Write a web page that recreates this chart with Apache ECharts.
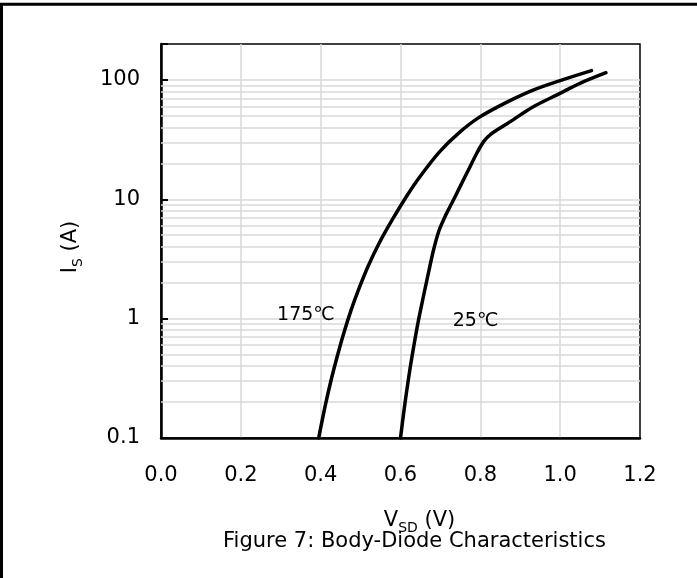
<!DOCTYPE html>
<html>
<head>
<meta charset="utf-8">
<script src="https://cdn.jsdelivr.net/npm/echarts@6/dist/echarts.min.js"></script>
<style>
html,body{margin:0;padding:0;background:#fff;}
#chart{width:697px;height:578px;}
</style>
</head>
<body>
<div id="chart"></div>
<script>
// Data (V_SD in volts, I_S in amperes)
const vsd175 = [0.395, 0.4116, 0.4259, 0.4421, 0.4584, 0.476, 0.4942, 0.518, 0.5461, 0.5787, 0.6137, 0.6476, 0.6977, 0.7478, 0.7979, 0.8655, 0.9306, 0.9982, 1.0784];
const is175  = [0.1,   0.1874, 0.303,  0.491,  0.767,  1.174, 1.727,  2.71,  4.26,   6.68,   10.4,   15.3,   25.0,   36.4,   48.8,   64.9,   81.8,   98.3,   119.7];
const vsd25  = [0.600, 0.6077, 0.6157, 0.6245, 0.6343, 0.645, 0.6571, 0.6696, 0.6826, 0.6959, 0.7114, 0.7282, 0.749, 0.7698, 0.7908, 0.8091, 0.8267, 0.866, 0.9326, 0.9995, 1.0496, 1.1147];
const is25   = [0.1,   0.1596, 0.2503, 0.3926, 0.617,  0.968, 1.518,  2.385,  3.74,   5.40,   7.15,   9.22,   12.7,  17.5,   24.2,   30.7,   35.2,   42.7,  59.6,   77.2,   93.7,   115];
const yTickLabels = [0.1, 1, 10, 100];
const minorGridValues = [0.2,0.3,0.4,0.5,0.6,0.7,0.8,0.9, 2,3,4,5,6,7,8,9, 20,30,40,50,60,70,80,90];
const curveLabels = [
  {text: '175℃', v: 0.363, i: 1.08},
  {text: '25℃',  v: 0.788, i: 0.96}
];
const xAxisTitle = ['V', 'SD', ' (V)'];
const yAxisTitle = ['I', 'S', ' (A)'];
const caption = 'Figure 7: Body-Diode Characteristics';

const FONT = 'DejaVu Sans';
const pair = (xs, ys) => xs.map((x, k) => [x, ys[k]]);

const chart = echarts.init(document.getElementById('chart'), null, {renderer: 'canvas'});
const richName = {
  m: {fontFamily: FONT, fontSize: 21, color: '#000', lineHeight: 28},
  s: {fontFamily: FONT, fontSize: 14, color: '#000', lineHeight: 14, verticalAlign: 'bottom'}
};

chart.setOption({
  animation: false,
  backgroundColor: '#fff',
  graphic: [
    {type: 'rect', shape: {x: 1.5, y: 4.2, width: 900, height: 900},
     style: {fill: 'none', stroke: '#000', lineWidth: 3}, z: 100},
    {type: 'text', left: 223, top: 531,
     style: {text: caption, fontFamily: FONT, fontSize: 21, fill: '#000'}}
  ],
  grid: {left: 161, right: 57, top: 44, bottom: 140, show: true, borderColor: '#000', borderWidth: 1.5, backgroundColor: 'transparent'},
  xAxis: {
    type: 'value', min: 0, max: 1.2, interval: 0.2,
    name: '{m|' + xAxisTitle[0] + '}{s|' + xAxisTitle[1] + '}{m|' + xAxisTitle[2] + '}',
    nameLocation: 'middle', nameGap: 69,
    nameTextStyle: {rich: richName, padding: [0, 0, 0, 38]},
    axisLine: {show: true, lineStyle: {color: '#000', width: 2.5}},
    axisTick: {show: false},
    axisLabel: {fontFamily: FONT, fontSize: 21, color: '#000', margin: 27,
      formatter: v => v.toFixed(1)},
    splitLine: {show: true, showMinLine: false, showMaxLine: false, lineStyle: {color: '#d9d9d9', width: 1.5}}
  },
  yAxis: {
    type: 'log', logBase: 10, min: 0.1, max: 200,
    name: '{m|' + yAxisTitle[0] + '}{s|' + yAxisTitle[1] + '}{m|' + yAxisTitle[2] + '}',
    nameLocation: 'middle', nameGap: 76, nameRotate: 90,
    nameTextStyle: {rich: richName, padding: [0, 12, 0, 0]},
    axisLine: {show: true, lineStyle: {color: '#000', width: 2.5}},
    axisTick: {show: true, inside: true, length: 7, lineStyle: {color: '#000', width: 2}},
    axisLabel: {fontFamily: FONT, fontSize: 21, color: '#000', margin: 21,
      formatter: v => {
        const hit = yTickLabels.find(t => Math.abs(t - v) / t < 1e-6);
        return hit === undefined ? '' : String(hit);
      }},
    splitLine: {show: true, showMinLine: false, showMaxLine: false, lineStyle: {color: '#d9d9d9', width: 1.5}}
  },
  series: [
    {
      name: 'grid', type: 'line', data: [], silent: true,
      markLine: {
        silent: true, symbol: 'none', animation: false,
        label: {show: false},
        lineStyle: {color: '#d9d9d9', width: 1.5, type: 'solid'},
        emphasis: {disabled: true},
        data: minorGridValues.map(v => ({yAxis: v}))
      },
      z: 1
    },
    {
      name: '175℃', type: 'line', data: pair(vsd175, is175), smooth: 0.3,
      showSymbol: false, symbol: 'none',
      lineStyle: {color: '#000', width: 3.5, cap: 'round', join: 'round'}, z: 5,
      markPoint: {
        symbol: 'circle', symbolSize: 0, silent: true,
        label: {show: true, position: 'inside', fontFamily: FONT, fontSize: 19, color: '#000',
          formatter: p => p.name},
        data: [{name: curveLabels[0].text, coord: [curveLabels[0].v, curveLabels[0].i]}]
      }
    },
    {
      name: '25℃', type: 'line', data: pair(vsd25, is25), smooth: 0.3,
      showSymbol: false, symbol: 'none',
      lineStyle: {color: '#000', width: 3.5, cap: 'round', join: 'round'}, z: 5,
      markPoint: {
        symbol: 'circle', symbolSize: 0, silent: true,
        label: {show: true, position: 'inside', fontFamily: FONT, fontSize: 19, color: '#000',
          formatter: p => p.name},
        data: [{name: curveLabels[1].text, coord: [curveLabels[1].v, curveLabels[1].i]}]
      }
    }
  ]
});
</script>
</body>
</html>
